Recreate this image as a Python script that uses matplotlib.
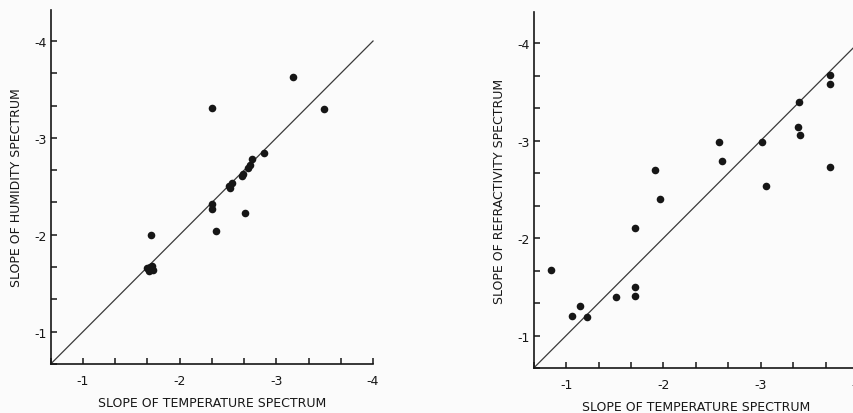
import numpy as np
import matplotlib.pyplot as plt

plt.rcParams['axes.unicode_minus'] = False
plt.rcParams['font.family'] = 'DejaVu Sans'

# humidity vs temperature slopes (left panel)
hum_temp = [-3.17, -2.33, -3.49, -2.875, -2.75, -2.73, -2.71, -2.66, -2.64,
            -2.54, -2.51, -2.52, -2.33, -2.33, -2.68, -2.38, -1.70,
            -1.66, -1.69, -1.72, -1.68, -1.71]
hum_slope = [-3.63, -3.31, -3.30, -2.846, -2.78, -2.72, -2.69, -2.63, -2.61,
             -2.53, -2.50, -2.48, -2.32, -2.27, -2.23, -2.04, -2.00,
             -1.66, -1.67, -1.64, -1.63, -1.68]

# refractivity vs temperature slopes (right panel)
ref_temp = [-0.84, -1.06, -1.14, -1.21, -1.51, -1.705, -1.705, -1.71, -1.91,
            -1.96, -2.57, -2.60, -3.01, -3.05, -3.39, -3.38, -3.40,
            -3.71, -3.71, -3.71]
ref_slope = [-1.675, -1.20, -1.30, -1.19, -1.40, -1.50, -1.41, -2.10, -2.70,
             -2.40, -2.99, -2.79, -2.99, -2.53, -3.40, -3.14, -3.06,
             -3.67, -3.58, -2.73]

major = [-1, -2, -3, -4]
tick_labels = ['-1', '-2', '-3', '-4']
lo, hi = -2/3, -4.0
ink = '#161616'

fig = plt.figure(figsize=(8.54, 4.14), dpi=100, facecolor='#fbfbfb')


def panel(rect, x, y, ylabel):
    ax = fig.add_axes(rect)
    ax.set_facecolor('none')
    ax.plot([lo, hi], [lo, hi], color='#3a3a3a', lw=0.9, clip_on=False)
    ax.scatter(x, y, s=30, color=ink, zorder=3, clip_on=False, linewidths=0)
    for s in ['top', 'right']:
        ax.spines[s].set_visible(False)
    for s in ['left', 'bottom']:
        ax.spines[s].set_linewidth(1.2)
        ax.spines[s].set_color(ink)
    ax.set_xticks(major)
    ax.set_xticklabels(tick_labels)
    ax.set_yticks(major)
    ax.set_yticklabels(tick_labels)
    thirds = -np.arange(2, 13) / 3
    ax.set_xticks(thirds, minor=True)
    ax.set_yticks(thirds, minor=True)
    # set limits after the ticks so they are not widened
    ax.set_xlim(lo, hi)
    ax.set_ylim(lo, -4.32)
    ax.tick_params(which='both', direction='in', length=4, width=1.1,
                   color=ink, labelcolor=ink, labelsize=9)
    ax.tick_params(axis='x', which='major', pad=7)
    ax.tick_params(axis='y', which='major', pad=3)
    ax.set_xlabel('SLOPE OF TEMPERATURE SPECTRUM', fontsize=9, color=ink,
                  labelpad=7)
    ax.set_ylabel(ylabel, fontsize=9, color=ink, labelpad=8)
    return ax


panel([0.0594, 0.1184, 0.3774, 0.855], hum_temp, hum_slope,
      'SLOPE OF HUMIDITY SPECTRUM')
panel([0.625, 0.1087, 0.3797, 0.86], ref_temp, ref_slope,
      'SLOPE OF REFRACTIVITY SPECTRUM')

fig.savefig('out.png', dpi=100, facecolor=fig.get_facecolor())
